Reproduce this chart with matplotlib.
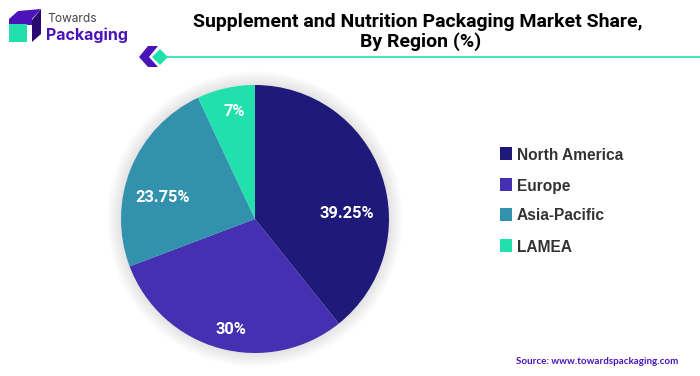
#!venv/bin/python3

import matplotlib
matplotlib.use("Agg")
import matplotlib.pyplot as plt
from matplotlib.patches import Circle, Polygon, Rectangle

regions = ["North America", "Europe", "Asia-Pacific", "LAMEA"]
shares = [39.25, 30, 23.75, 7]
share_labels = ["39.25%", "30%", "23.75%", "7%"]
colors = ["#1f1a7a", "#4430b0", "#3292ae", "#22e0ac"]

PURPLE = "#4a14b8"
DARK = "#2a0a70"
GREEN = "#22e0ac"
W, H = 700, 376


def main():
    plt.rcParams["font.family"] = ["Roboto", "DejaVu Sans"]
    fig = plt.figure(figsize=(W / 100, H / 100), dpi=100)

    # overlay in pixel coordinates, y going down
    bg = fig.add_axes([0, 0, 1, 1], zorder=1)
    bg.set_xlim(0, W)
    bg.set_ylim(H, 0)
    bg.axis("off")

    # soft shadow behind the pie
    for r in range(148, 133, -1):
        bg.add_patch(Circle((255, 219), r, color="black", alpha=0.007, lw=0))

    # logo
    bg.add_patch(Polygon([[9, 19], [18, 11], [41, 9], [32, 19]], color=PURPLE, lw=0))
    bg.add_patch(Rectangle((9, 19), 23, 6, color=PURPLE, lw=0))
    bg.add_patch(Polygon([[32, 20], [41, 9], [41, 34], [32, 42]], color=DARK, lw=0))
    bg.add_patch(Rectangle((9, 24), 18, 18, color=GREEN, lw=0))
    bg.text(47, 19.5, "Towards", fontsize=8.6, color="#444444", va="center", family="Inter")
    bg.text(46, 35.5, "Packaging", fontsize=11.5, color=PURPLE, va="center",
            fontweight="bold", family="Inter")

    # title and the line under it
    bg.text(418, 22, "Supplement and Nutrition Packaging Market Share,", fontsize=14,
            fontweight="bold", ha="center", va="center", color="black")
    bg.text(421, 42, "By Region (%)", fontsize=14, fontweight="bold", ha="center",
            va="center", color="black")
    bg.plot([165, 700], [57, 57], color=GREEN, lw=1.2)
    bg.add_patch(Polygon([[139, 57], [148, 46], [158, 46], [149, 57], [158, 67], [148, 67]],
                         color=PURPLE, lw=0))
    bg.add_patch(Polygon([[152, 57], [160, 49], [168, 57], [160, 65]], color=GREEN, lw=0))

    # pie
    ax = fig.add_axes([121 / W, 1 - 353 / H, 268 / W, 268 / H], zorder=2)
    ax.pie(shares, colors=colors, startangle=90, counterclock=False, radius=1)
    ax.set_xlim(-1, 1)
    ax.set_ylim(-1, 1)

    # labels go on a top layer so the pie does not cover them
    top = fig.add_axes([0, 0, 1, 1], zorder=3)
    top.set_xlim(0, W)
    top.set_ylim(H, 0)
    top.axis("off")
    label_pos = [(347, 213), (231, 330), (163, 197), (234, 111)]
    for txt, (x, y) in zip(share_labels, label_pos):
        top.text(x, y, txt, fontsize=11.9, fontweight="bold", color="white",
                 ha="center", va="center")

    # legend
    legend_y = [154, 185, 215, 246]
    for name, col, y in zip(regions, colors, legend_y):
        bg.add_patch(Rectangle((500, y - 7), 12, 13, color=col, lw=0))
        bg.text(517, y + 1, name, fontsize=11.2, fontweight="bold", color="#333333",
                va="center", family="Liberation Sans")

    bg.text(516, 362, "Source: www.towardspackaging.com", fontsize=7, fontweight="bold",
            color=PURPLE, va="center", family="Lato")

    fig.savefig("out.png", dpi=100)


if __name__ == "__main__":
    main()
